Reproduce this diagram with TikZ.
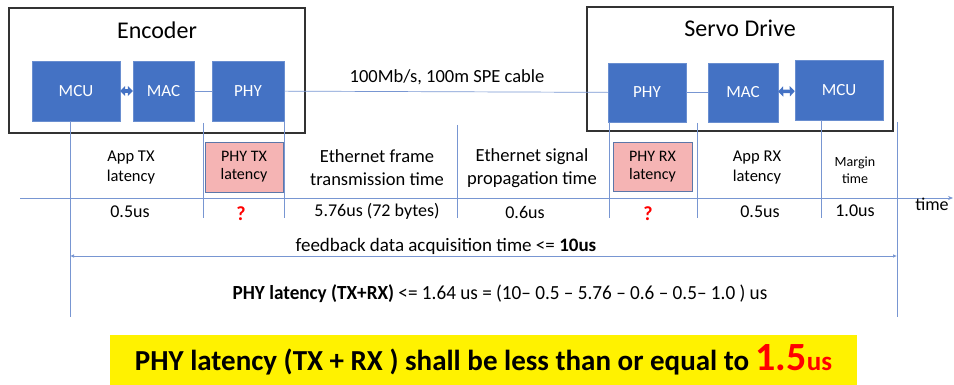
\documentclass[tikz,border=0pt]{standalone}
\usepackage{fontspec}
\setmainfont{Carlito}
\newfontfamily\narrowfont[FakeStretch=0.96]{Carlito}
\usetikzlibrary{arrows.meta}
\definecolor{officeblue}{RGB}{68,114,196}
\definecolor{thinblue}{RGB}{120,150,210}
\definecolor{pinkfill}{RGB}{245,180,180}
\definecolor{framegray}{RGB}{50,50,50}
\begin{document}
\begin{tikzpicture}
  [x=1pt,y=-1pt,
   frame/.style={draw=framegray,line width=1.1pt,inner sep=0pt},
   title/.style={font=\fontsize{24}{26}\selectfont},
   blk/.style={fill=officeblue,draw=officeblue!80!white,text=white,inner sep=0pt,font=\fontsize{17}{20}\selectfont},
   pinkbox/.style={fill=pinkfill,draw=officeblue!60!gray,line width=0.8pt,inner sep=0pt,align=center,font=\fontsize{16}{18}\selectfont},
   lbl/.style={align=center,font=\fontsize{16.5}{20}\selectfont},
   biglbl/.style={align=center,font=\fontsize{18.5}{23}\selectfont},
   val/.style={font=\fontsize{18}{20}\selectfont},
   qmark/.style={text=red,font=\fontsize{20}{22}\selectfont\bfseries},
   thin/.style={draw=thinblue,line width=0.7pt},
   dbl/.style={draw=officeblue,line width=3.5pt,{Triangle[length=5pt,width=10pt]}-{Triangle[length=5pt,width=10pt]}}]
  \useasboundingbox (0,0) rectangle (954,385);

  % encoder side
  \node[frame,minimum width=296,minimum height=125] (enc) at (157,70.5) {};
  \node[title] (enct) at (157,30) {Encoder};
  \node[blk,minimum width=88,minimum height=60] (mcuA) at (76,91) {MCU};
  \node[blk,minimum width=61,minimum height=60] (macA) at (163.5,91) {MAC};
  \node[blk,minimum width=72,minimum height=60] (phyA) at (248,91) {PHY};

  % servo drive side
  \node[frame,minimum width=306,minimum height=124] (srv) at (740,69) {};
  \node[title] (srvt) at (740,28) {Servo Drive};
  \node[blk,minimum width=78,minimum height=59] (phyB) at (647,92.5) {PHY};
  \node[blk,minimum width=70,minimum height=59] (macB) at (743,92.5) {MAC};
  \node[blk,minimum width=88,minimum height=60] (mcuB) at (839,90) {MCU};

  \node[biglbl] (cable) at (447,77) {100Mb/s, 100m SPE cable};

\path [thin]
(macA) edge (phyA)
(phyA) edge (phyB)
(phyB) edge (macB)
;
\draw[dbl] (mcuA) -- (macA);
\draw[dbl] (macB) -- (mcuB);

  % time axis and boundaries
  \coordinate (t0) at (20,198);
  \coordinate (t1) at (953,198);
  \draw[thin,-{Stealth[length=5pt,width=4pt]}] (t0) -- (t1);
  \node[val,anchor=north] (tlbl) at (932,195) {time};

  \foreach \name/\xx/\ytop/\ybot in {vA/70/121/317, vB/203/123/218, vC/284/121/218,
      vD/457/125/218, vE/609/122/218, vF/697/123/218, vG/821/120/218, vH/897/122/317}
  {
    \coordinate (\name t) at (\xx,\ytop);
    \coordinate (\name b) at (\xx,\ybot);
    \draw[thin] (\name t) -- (\name b);
  }

  % latency blocks
  \node[lbl] (apptx) at (131,168) {App TX\\latency};
  \node[pinkbox,minimum width=78,minimum height=50] (phytx) at (244,167) {PHY TX\\latency};
  \node[biglbl] (frame) at (377,168) {Ethernet frame\\transmission time};
  \node[biglbl] (prop) at (532,168) {Ethernet signal\\propagation time};
  \node[pinkbox,minimum width=79,minimum height=49] (phyrx) at (652.5,166.5) {PHY RX\\latency};
  \node[lbl] (apprx) at (757,168) {App RX\\latency};
  \node[align=center,font=\fontsize{14}{17}\selectfont] (margin) at (855,170) {Margin\\time};

  \node[val] (vapptx) at (130,212) {0.5us};
  \node[qmark] (vphytx) at (241,214) {?};
  \node[val] (vframe) at (377,211) {5.76us (72 bytes)};
  \node[val] (vprop) at (525,212) {0.6us};
  \node[qmark] (vphyrx) at (648,214) {?};
  \node[val] (vapprx) at (760,212) {0.5us};
  \node[val] (vmargin) at (855,211) {1.0us};

  % total budget
  \coordinate (fbA) at (70,256);
  \coordinate (fbB) at (897,256);
  \draw[thin,{Latex[length=4pt,width=3.5pt]}-{Latex[length=4pt,width=3.5pt]}] (fbA) -- (fbB);
  \node[font=\fontsize{19}{22}\selectfont] (fb) at (446,246) {feedback data acquisition time <= \textbf{10us}};
  \node[font=\narrowfont\fontsize{20}{22}\selectfont] (calc) at (500,294)
    {\textbf{PHY latency (TX+RX)} <= 1.64 us = (10– 0.5 – 5.76 – 0.6 – 0.5– 1.0 ) us};

  \node[fill=yellow,minimum width=747,minimum height=50,inner sep=0pt,
        font=\fontsize{29}{32}\selectfont\bfseries] (concl) at (483.5,360)
    {PHY latency (TX + RX ) shall be less than or equal to \textcolor{red}{\fontsize{40}{44}\selectfont 1.5\fontsize{27}{30}\selectfont us}};
\end{tikzpicture}
\end{document}
